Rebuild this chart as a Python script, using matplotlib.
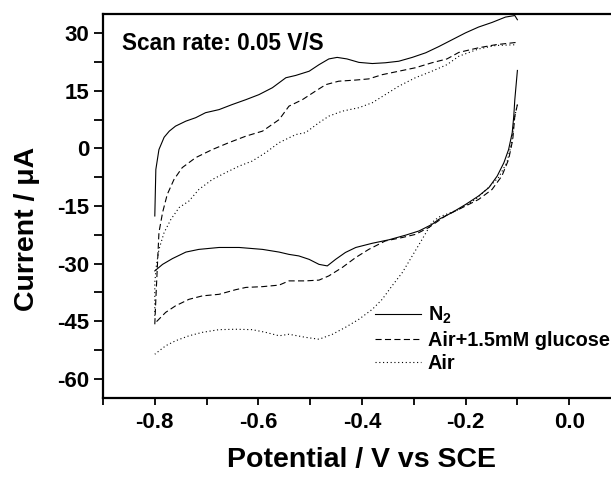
import matplotlib
matplotlib.use("Agg")
import matplotlib.pyplot as plt
import numpy as np

plt.rcParams['font.family'] = ['Liberation Sans', 'DejaVu Sans']
plt.rcParams['font.weight'] = 'bold'
plt.rcParams['mathtext.fontset'] = 'custom'
plt.rcParams['mathtext.rm'] = 'Liberation Sans:bold'
plt.rcParams['mathtext.it'] = 'Liberation Sans:bold'
plt.rcParams['mathtext.bf'] = 'Liberation Sans:bold'

# ---- N2 (solid) ----
n2_fwd_E = [-0.800, -0.798, -0.792, -0.782, -0.772, -0.760, -0.740, -0.721, -0.702, -0.676,
            -0.651, -0.624, -0.599, -0.573, -0.547, -0.528, -0.502, -0.483, -0.464, -0.448,
            -0.429, -0.406, -0.380, -0.355, -0.329, -0.303, -0.277, -0.252, -0.226, -0.200,
            -0.175, -0.149, -0.123, -0.105, -0.100]
n2_fwd_I = [-17.6, -5.5, -0.3, 2.9, 4.5, 5.8, 7.1, 8.0, 9.3, 10.1,
            11.4, 12.7, 14.0, 15.8, 18.4, 19.0, 20.1, 21.8, 23.3, 23.7,
            23.3, 22.4, 22.1, 22.3, 22.7, 23.7, 24.9, 26.5, 28.3, 30.1,
            31.6, 32.8, 34.2, 34.6, 33.5]
n2_rev_E = [-0.100, -0.105, -0.107, -0.110, -0.117, -0.126, -0.139, -0.155, -0.175, -0.200,
            -0.226, -0.252, -0.265, -0.290, -0.316, -0.348, -0.380, -0.412, -0.432, -0.451,
            -0.467, -0.483, -0.502, -0.522, -0.541, -0.560, -0.592, -0.637, -0.676, -0.715,
            -0.740, -0.766, -0.785, -0.800]
n2_rev_I = [20.3, 12.7, 8.4, 4.1, -0.3, -3.7, -7.2, -10.2, -12.4, -14.6,
            -16.7, -18.5, -19.8, -21.5, -22.6, -23.8, -24.7, -25.8, -27.1, -28.9,
            -30.6, -30.2, -28.9, -28.0, -27.6, -27.0, -26.3, -25.8, -25.8, -26.3,
            -27.0, -28.7, -30.2, -31.9]

# ---- Air + 1.5 mM glucose (dashed) ----
glu_fwd_E = [-0.800, -0.798, -0.795, -0.792, -0.785, -0.776, -0.763, -0.747, -0.721, -0.689,
             -0.657, -0.624, -0.592, -0.560, -0.541, -0.515, -0.490, -0.470, -0.445, -0.412,
             -0.387, -0.361, -0.329, -0.297, -0.265, -0.236, -0.213, -0.175, -0.142, -0.102]
glu_fwd_I = [-45.8, -39.3, -30.6, -21.9, -16.7, -12.0, -8.1, -5.0, -2.4, -0.3,
             1.5, 3.2, 4.5, 7.5, 11.0, 12.7, 14.9, 16.6, 17.5, 17.8,
             18.1, 19.2, 20.1, 21.0, 22.3, 23.3, 25.0, 26.2, 27.0, 27.6]
glu_rev_E = [-0.100, -0.105, -0.109, -0.117, -0.130, -0.149, -0.175, -0.200, -0.226, -0.239,
             -0.271, -0.297, -0.322, -0.355, -0.387, -0.412, -0.438, -0.464, -0.483, -0.509,
             -0.541, -0.560, -0.592, -0.624, -0.644, -0.676, -0.708, -0.734, -0.760, -0.779,
             -0.798, -0.800]
glu_rev_I = [11.4, 8.4, 2.3, -2.9, -7.2, -10.7, -13.3, -15.0, -16.7, -17.6,
             -20.6, -22.4, -23.2, -24.1, -26.3, -28.4, -31.0, -33.2, -34.3, -34.5,
             -34.5, -35.6, -36.0, -36.2, -36.8, -38.0, -38.4, -39.3, -41.0, -42.7,
             -45.3, -45.8]

# ---- Air (dotted) ----
air_fwd_E = [-0.800, -0.800, -0.797, -0.792, -0.782, -0.769, -0.753, -0.734, -0.715, -0.689,
             -0.663, -0.637, -0.612, -0.586, -0.560, -0.528, -0.509, -0.483, -0.464, -0.438,
             -0.406, -0.380, -0.355, -0.329, -0.297, -0.265, -0.236, -0.213, -0.175, -0.142,
             -0.102]
air_fwd_I = [-43.6, -34.9, -30.6, -26.3, -21.9, -18.5, -15.4, -13.7, -10.7, -8.1,
             -6.3, -4.6, -3.3, -1.1, 1.5, 3.6, 4.1, 6.7, 8.4, 9.7,
             10.6, 11.9, 14.0, 16.2, 18.4, 20.1, 21.8, 24.0, 25.9, 26.8,
             27.0]
air_rev_E = [-0.100, -0.105, -0.111, -0.120, -0.136, -0.155, -0.181, -0.213, -0.252, -0.265,
             -0.284, -0.303, -0.322, -0.342, -0.361, -0.380, -0.406, -0.432, -0.457, -0.483,
             -0.509, -0.541, -0.560, -0.586, -0.612, -0.644, -0.676, -0.708, -0.734, -0.760,
             -0.779, -0.800]
air_rev_I = [11.4, 8.4, 1.6, -3.6, -7.5, -10.1, -13.3, -15.9, -17.9, -19.3,
             -23.7, -28.0, -32.3, -35.8, -39.3, -41.9, -44.5, -46.6, -48.4, -49.7,
             -49.2, -48.4, -48.8, -47.9, -47.2, -47.1, -47.2, -47.9, -48.8, -50.1,
             -51.4, -53.6]

labels = ['N$_2$', 'Air+1.5mM glucose', 'Air']
x_ticks = [-0.8, -0.6, -0.4, -0.2, 0.0]
x_tick_labels = ['-0.8', '-0.6', '-0.4', '-0.2', '0.0']
y_ticks = [30, 15, 0, -15, -30, -45, -60]
y_tick_labels = ['30', '15', '0', '-15', '-30', '-45', '-60']

W, H = 611, 478
fig = plt.figure(figsize=(W / 100, H / 100), dpi=100)
ax = fig.add_axes([103 / W, 80 / H, 518 / W, 384 / H])

lw = 0.8
dash = (0, (5.5, 3.0))
dot = (0, (1.0, 2.4))
l1, = ax.plot(n2_fwd_E, n2_fwd_I, color='black', lw=lw, ls='-')
ax.plot(n2_rev_E, n2_rev_I, color='black', lw=lw, ls='-')
l2, = ax.plot(glu_fwd_E, glu_fwd_I, color='black', lw=lw, ls=dash)
ax.plot(glu_rev_E, glu_rev_I, color='black', lw=lw, ls=dash)
l3, = ax.plot(air_fwd_E, air_fwd_I, color='black', lw=lw, ls=dot)
ax.plot(air_rev_E, air_rev_I, color='black', lw=lw, ls=dot)

ax.set_xlim(-0.9, 0.1)
ax.set_ylim(-65, 35)
ax.set_xticks(x_ticks)
ax.set_xticklabels(x_tick_labels)
ax.set_yticks(y_ticks)
ax.set_yticklabels(y_tick_labels)
ax.set_xticks(np.arange(-0.9, 0.11, 0.1), minor=True)
ax.set_yticks(np.arange(-60, 35, 7.5), minor=True)
ax.tick_params(axis='both', which='both', direction='out', width=1.3, top=False, right=False)
ax.tick_params(axis='y', which='both', length=6.5)
ax.tick_params(axis='x', which='both', length=4.8)
ax.tick_params(axis='x', which='major', pad=5.5)
ax.tick_params(axis='both', which='major', labelsize=16)
for t in ax.get_xticklabels() + ax.get_yticklabels():
    t.set_fontweight('bold')
for s in ax.spines.values():
    s.set_linewidth(1.6)

ax.set_xlabel('Potential / V vs SCE', fontsize=20.5, fontweight='bold', labelpad=10)
ax.set_ylabel('Current / μA', fontsize=20.5, fontweight='bold', labelpad=12)
ax.yaxis.label.set_y(0.44)

fig.text(122 / W, 1 - 50 / H, 'Scan rate: 0.05 V/S', fontsize=16.3, fontweight='bold',
         ha='left', va='baseline')

leg = ax.legend([l1, l2, l3], labels, loc='upper left',
                bbox_to_anchor=(375 / W, 1 - 305 / H), bbox_transform=fig.transFigure,
                frameon=False, fontsize=14.3, handlelength=2.3, handletextpad=0.35,
                labelspacing=0.22, borderpad=0, borderaxespad=0)
for t in leg.get_texts():
    t.set_fontweight('bold')

fig.savefig('out.png', dpi=100)
